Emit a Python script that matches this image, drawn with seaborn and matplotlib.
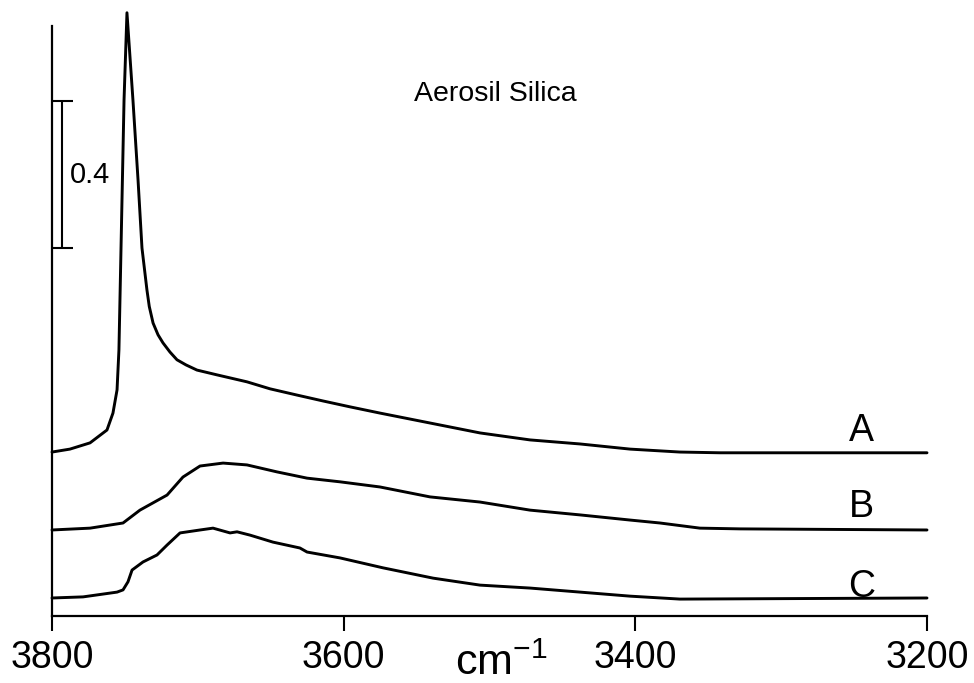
import matplotlib
matplotlib.use("Agg")
import matplotlib.pyplot as plt
import seaborn as sns
import pandas as pd

# IR absorbance spectra of Aerosil silica (wavenumber in cm^-1, absorbance)
A_wn = [3800, 3787.7, 3773.9, 3762.3, 3758.2, 3755.4, 3754.1, 3752.7, 3750.6,
        3748.6, 3744.5, 3741.0, 3738.3, 3734.9, 3733.3, 3730.7, 3727.3, 3723.9,
        3719.1, 3714.3, 3708.1, 3700.6, 3686.9, 3666.3, 3650.5, 3632.0, 3614.2,
        3595.7, 3575.1, 3540.8, 3506.5, 3472.2, 3437.9, 3403.6, 3369.4, 3341.9,
        3287.1, 3200]
A_abs = [0.446, 0.454, 0.471, 0.506, 0.552, 0.615, 0.724, 0.996, 1.404,
         1.641, 1.404, 1.186, 1.001, 0.887, 0.842, 0.797, 0.765, 0.743,
         0.718, 0.697, 0.683, 0.669, 0.656, 0.637, 0.618, 0.601, 0.585,
         0.569, 0.552, 0.525, 0.498, 0.479, 0.468, 0.454, 0.446, 0.444,
         0.444, 0.444]

B_wn = [3800, 3773.9, 3751.3, 3739.7, 3721.1, 3710.2, 3698.5, 3682.7, 3666.3,
        3645.7, 3625.1, 3602.5, 3575.1, 3540.8, 3506.5, 3472.2, 3437.9, 3403.6,
        3383.1, 3355.7, 3328.2, 3200]
B_abs = [0.234, 0.239, 0.253, 0.288, 0.329, 0.378, 0.408, 0.416, 0.411,
         0.392, 0.375, 0.365, 0.351, 0.324, 0.310, 0.288, 0.275, 0.261,
         0.253, 0.239, 0.237, 0.234]

C_wn = [3800, 3778.7, 3755.4, 3751.3, 3747.9, 3745.1, 3737.6, 3728.0, 3721.1,
        3712.2, 3698.5, 3689.6, 3677.9, 3673.1, 3664.2, 3648.5, 3630.0, 3625.1,
        3602.5, 3573.0, 3538.7, 3506.5, 3472.2, 3437.9, 3403.6, 3369.4, 3200]
C_abs = [0.049, 0.052, 0.065, 0.071, 0.093, 0.125, 0.147, 0.166, 0.193,
         0.226, 0.234, 0.239, 0.226, 0.229, 0.220, 0.201, 0.185, 0.174,
         0.158, 0.131, 0.103, 0.084, 0.076, 0.065, 0.054, 0.046, 0.049]

curve_labels = ["A", "B", "C"]
label_wn = 3245
label_abs = [0.476, 0.269, 0.052]

x_ticks = [3800, 3600, 3400, 3200]
scale_bar = (1.0, 1.4)          # absorbance range of the 0.4 scale bar
scale_bar_wn = 3793
title_text = "Aerosil Silica"

frames = []
for name, wn, ab in zip(curve_labels, [A_wn, B_wn, C_wn], [A_abs, B_abs, C_abs]):
    frames.append(pd.DataFrame({"wavenumber": wn, "absorbance": ab, "sample": name}))
df = pd.concat(frames, ignore_index=True)

sns.set_theme(style="ticks")
FONT = ["Liberation Sans", "DejaVu Sans"]
plt.rcParams["font.family"] = FONT
plt.rcParams["mathtext.fontset"] = "custom"
plt.rcParams["mathtext.rm"] = "Liberation Sans"
plt.rcParams["mathtext.it"] = "Liberation Sans"
plt.rcParams["mathtext.bf"] = "Liberation Sans"

fig = plt.figure(figsize=(9.74, 6.83), dpi=100)
ax = fig.add_axes([52 / 974, 67 / 683, 875 / 974, 590 / 683])

sns.lineplot(data=df, x="wavenumber", y="absorbance", hue="sample",
             palette={k: "black" for k in curve_labels}, estimator=None,
             legend=False, linewidth=2.1, clip_on=False, ax=ax)
for line in ax.get_lines():
    line.set_solid_joinstyle("round")

ax.set_xlim(3800, 3200)
ax.set_ylim(0, 1.605)
ax.set_xticks(x_ticks)
ax.set_xticklabels([str(t) for t in x_ticks])
ax.set_yticks([])
ax.set_xlabel("")
ax.set_ylabel("")
sns.despine(ax=ax)
for side in ("left", "bottom"):
    ax.spines[side].set_linewidth(1.6)
    ax.spines[side].set_color("black")
ax.tick_params(axis="x", direction="out", length=10.5, width=1.5,
               colors="black", labelsize=27, pad=7)

# curve identifiers
for name, y in zip(curve_labels, label_abs):
    ax.text(label_wn, y, name, ha="center", va="baseline", fontsize=27,
            color="black")

# absorbance scale bar
ax.errorbar([scale_bar_wn], [sum(scale_bar) / 2],
            yerr=[(scale_bar[1] - scale_bar[0]) / 2], fmt="none",
            ecolor="black", elinewidth=1.5, capsize=8, capthick=1.5,
            clip_on=False)
ax.text(scale_bar_wn - 5, sum(scale_bar) / 2,
        f"{scale_bar[1] - scale_bar[0]:.1f}", ha="left", va="center",
        fontsize=21, color="black")

ax.text(3552, 1.40, title_text, ha="left", va="baseline", fontsize=20.5,
        color="black")

ax.text(0.514, -0.1, "cm$^{-1}$", transform=ax.transAxes, ha="center",
        va="baseline", fontsize=31, color="black")

fig.savefig("out.png", dpi=100)
